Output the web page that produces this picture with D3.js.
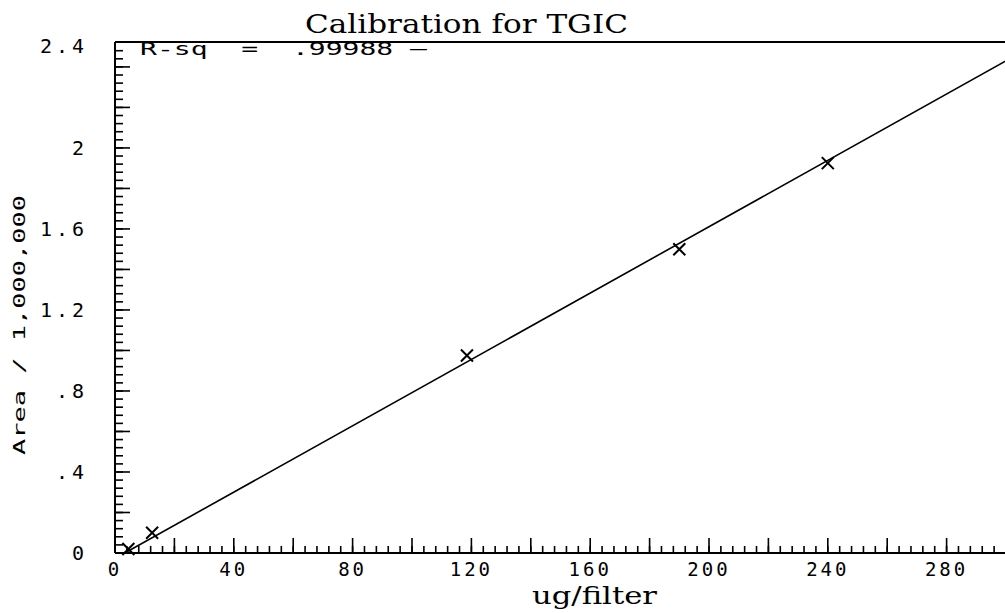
<!DOCTYPE html>
<html>
<head>
<meta charset="utf-8">
<script src="https://cdn.jsdelivr.net/npm/d3@7"></script>
<style>
  html, body { margin: 0; padding: 0; background: #fff; }
  svg { display: block; }
  text { fill: #000; }
</style>
</head>
<body>
<svg id="chart" width="1005" height="613"></svg>
<script>
// ---- data ----
const amounts = [4.5, 12.5, 118.5, 190, 240];          // ug/filter
const areas   = [0.02, 0.10, 0.975, 1.50, 1.925];       // Area / 1,000,000
const fitLine = [[3.3, 0.0], [300, 2.43]];              // regression line endpoints
const xTickLabels = [0, 40, 80, 120, 160, 200, 240, 280];
const yTickLabels = [0, 0.4, 0.8, 1.2, 1.6, 2.0, 2.4];
const yTickText   = ["0", ".4", ".8", "1.2", "1.6", "2", "2.4"];
const titleText = "Calibration for TGIC";
const xLabelText = "ug/filter";
const yLabelText = "Area / 1,000,000";
const rsqText = "R-sq  =  .99988 \u2014";

(function () {
// ---- layout ----
const svg = d3.select("#chart");
const mLeft = 115, mRight = 1006, mTop = 42, mBottom = 553;
const x = d3.scaleLinear().domain([0, 300]).range([mLeft, mRight]);
const y = d3.scaleLinear().domain([0, 2.523]).range([mBottom, mTop]);
const mono = "'DejaVu Sans Mono', monospace";

// frame: top line
svg.append("line").attr("x1", mLeft).attr("x2", 1005).attr("y1", mTop).attr("y2", mTop)
  .attr("stroke", "#000").attr("stroke-width", 2);

// x axis ticks (inside, pointing up)
const xMinor = d3.range(0, 301, 4);
const xMajor = d3.range(20, 301, 20);
const gx = svg.append("g");
gx.selectAll("line.minor").data(xMinor).join("line").attr("class", "minor")
  .attr("x1", d => x(d)).attr("x2", d => x(d))
  .attr("y1", mBottom).attr("y2", mBottom - 7)
  .attr("stroke", "#000").attr("stroke-width", 1.6);
gx.selectAll("line.major").data(xMajor).join("line").attr("class", "major")
  .attr("x1", d => x(d)).attr("x2", d => x(d))
  .attr("y1", mBottom).attr("y2", mBottom - 15)
  .attr("stroke", "#000").attr("stroke-width", 1.6);
gx.append("line").attr("x1", mLeft).attr("x2", 1005).attr("y1", mBottom).attr("y2", mBottom)
  .attr("stroke", "#000").attr("stroke-width", 2);
gx.selectAll("text").data(xTickLabels).join("text")
  .attr("x", d => x(d)).attr("y", mBottom + 23)
  .attr("text-anchor", "middle")
  .attr("font-family", mono).attr("font-size", 19).attr("letter-spacing", 3)
  .text(d => String(d));

// y axis ticks (inside, pointing right)
const yMinor = d3.range(0, 2.52, 0.04);
const yMajor = d3.range(0.2, 2.52, 0.2);
const gy = svg.append("g");
gy.selectAll("line.minor").data(yMinor).join("line").attr("class", "minor")
  .attr("x1", mLeft).attr("x2", mLeft + 8)
  .attr("y1", d => y(d)).attr("y2", d => y(d))
  .attr("stroke", "#000").attr("stroke-width", 1.6);
gy.selectAll("line.major").data(yMajor).join("line").attr("class", "major")
  .attr("x1", mLeft).attr("x2", mLeft + 15)
  .attr("y1", d => y(d)).attr("y2", d => y(d))
  .attr("stroke", "#000").attr("stroke-width", 1.6);
gy.append("line").attr("x1", mLeft).attr("x2", mLeft).attr("y1", mTop).attr("y2", mBottom)
  .attr("stroke", "#000").attr("stroke-width", 2);
gy.selectAll("text").data(yTickLabels).join("text")
  .attr("x", mLeft - 27)
  .attr("y", (d, i) => y(d) + (i === yTickLabels.length - 1 ? -21 : 0))
  .attr("dy", "0.36em")
  .attr("text-anchor", "end")
  .attr("font-family", mono).attr("font-size", 20).attr("letter-spacing", 4)
  .text((d, i) => yTickText[i]);

// regression line
svg.append("path")
  .attr("d", d3.line().x(d => x(d[0])).y(d => y(d[1]))(fitLine))
  .attr("fill", "none").attr("stroke", "#000").attr("stroke-width", 1.6);

// markers (X)
const s = 6;
const pts = amounts.map((a, i) => [a, areas[i]]);
svg.append("g").selectAll("path").data(pts).join("path")
  .attr("d", d => {
    const cx = x(d[0]), cy = y(d[1]);
    return `M${cx - s},${cy - s}L${cx + s},${cy + s}M${cx - s},${cy + s}L${cx + s},${cy - s}`;
  })
  .attr("stroke", "#000").attr("stroke-width", 2).attr("fill", "none");

// R-sq annotation
svg.append("text")
  .attr("x", 140).attr("y", 55)
  .attr("font-family", mono).attr("font-size", 17)
  .attr("textLength", 287).attr("lengthAdjust", "spacingAndGlyphs")
  .style("white-space", "pre")
  .text(rsqText);

// title
svg.append("text")
  .attr("x", 305).attr("y", 33)
  .attr("font-family", "'DejaVu Serif', serif").attr("font-size", 26)
  .attr("textLength", 323).attr("lengthAdjust", "spacingAndGlyphs")
  .text(titleText);

// x label
svg.append("text")
  .attr("x", 532).attr("y", 604)
  .attr("font-family", "'DejaVu Serif', serif").attr("font-size", 24)
  .attr("textLength", 125).attr("lengthAdjust", "spacingAndGlyphs")
  .text(xLabelText);

// y label
svg.append("text")
  .attr("transform", "translate(25,325) rotate(-90)")
  .attr("text-anchor", "middle")
  .attr("font-family", mono).attr("font-size", 16)
  .attr("textLength", 260).attr("lengthAdjust", "spacingAndGlyphs")
  .text(yLabelText);
})();
</script>
</body>
</html>
